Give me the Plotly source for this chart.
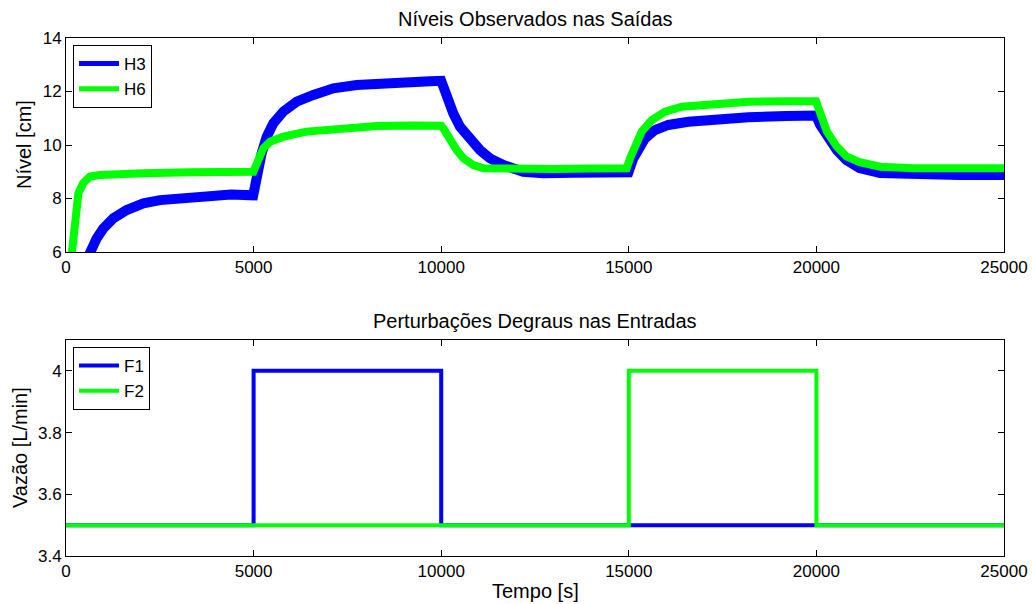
import plotly.graph_objects as go

# ---- data ----
h3_t = [600, 640, 817, 995, 1262, 1617, 2062, 2505, 3393, 4400, 4990,
        5082, 5215, 5350, 5526, 5792, 6148, 6592, 7125, 7747, 8280, 9000, 9700, 10000,
        10146, 10323, 10501, 10768, 11034, 11300, 11656, 12189, 12722, 13500, 14300, 14990,
        15120, 15254, 15432, 15698, 16053, 16586, 17297, 18185, 19200, 19990,
        20100, 20300, 20550, 20800, 21150, 21700, 22600, 23800, 25000]
h3_v = [5.85, 6.0, 6.51, 6.88, 7.26, 7.57, 7.82, 7.94, 8.07, 8.15, 8.12,
        8.95, 9.69, 10.31, 10.81, 11.25, 11.62, 11.87, 12.12, 12.24, 12.3, 12.35, 12.38, 12.4,
        11.81, 11.18, 10.68, 10.19, 9.81, 9.5, 9.25, 9.0, 8.94, 8.96, 8.97, 8.98,
        9.5, 9.88, 10.25, 10.56, 10.75, 10.87, 10.96, 11.04, 11.08, 11.1,
        10.75, 10.3, 9.8, 9.44, 9.14, 8.95, 8.88, 8.88, 8.88]

h6_t = [120, 151, 240, 330, 462, 640, 906, 1400, 2060, 3300, 4460, 4993,
        5126, 5260, 5437, 5792, 6414, 7303, 8280, 9200, 10000,
        10057, 10235, 10412, 10590, 10856, 11122, 11922, 13000, 14000, 14944,
        15032, 15165, 15343, 15610, 15965, 16410, 17119, 18185, 19200, 19990,
        20100, 20280, 20540, 20800, 21150, 21700, 22600, 23800, 25000]
h6_v = [5.5, 6.0, 7.32, 8.2, 8.58, 8.82, 8.88, 8.92, 8.94, 8.98, 9.0, 9.0,
        9.44, 9.88, 10.12, 10.31, 10.5, 10.62, 10.71, 10.73, 10.72,
        10.62, 10.19, 9.81, 9.5, 9.25, 9.13, 9.09, 9.1, 9.12, 9.13,
        9.5, 10.0, 10.5, 10.93, 11.25, 11.43, 11.53, 11.62, 11.64, 11.64,
        11.2, 10.5, 9.95, 9.57, 9.36, 9.19, 9.13, 9.13, 9.13]

step_t = [0, 5000, 10000, 15000, 20000, 25000]
f1_v = [3.5, 4.0, 3.5, 3.5, 3.5, 3.5]
f2_v = [3.5, 3.5, 3.5, 4.0, 3.5, 3.5]

x_ticks = [0, 5000, 10000, 15000, 20000, 25000]
x_ticktext = ["0", "5000", "10000", "15000", "20000", "25000"]
y1_ticks = [6, 8, 10, 12, 14]
y1_ticktext = ["6", "8", "10", "12", "14"]
y2_ticks = [3.4, 3.6, 3.8, 4.0]
y2_ticktext = ["3.4", "3.6", "3.8", "4"]

BLUE = "#0000FF"
GREEN = "#00FF00"
FONT = "Liberation Sans, Arial, sans-serif"

W, H = 1034, 604
def px(x): return x / W
def py(y): return 1 - y / H

fig = go.Figure()
# data lines (top)
fig.add_trace(go.Scatter(x=h3_t, y=h3_v, mode="lines", name="H3", showlegend=False,
                         line=dict(color=BLUE, width=10), xaxis="x", yaxis="y"))
fig.add_trace(go.Scatter(x=h6_t, y=h6_v, mode="lines", name="H6", showlegend=False,
                         line=dict(color=GREEN, width=8), xaxis="x", yaxis="y"))
# legend entries (top) with the thinner legend line
fig.add_trace(go.Scatter(x=[None], y=[None], mode="lines", name="H3",
                         line=dict(color=BLUE, width=5), xaxis="x", yaxis="y", legend="legend"))
fig.add_trace(go.Scatter(x=[None], y=[None], mode="lines", name="H6",
                         line=dict(color=GREEN, width=5), xaxis="x", yaxis="y", legend="legend"))
# bottom steps
fig.add_trace(go.Scatter(x=step_t, y=f1_v, mode="lines", name="F1", line_shape="hv",
                         line=dict(color=BLUE, width=4), xaxis="x2", yaxis="y2", legend="legend2"))
fig.add_trace(go.Scatter(x=step_t, y=f2_v, mode="lines", name="F2", line_shape="hv",
                         line=dict(color=GREEN, width=4), xaxis="x2", yaxis="y2", legend="legend2"))

axis_common = dict(showline=True, linecolor="black", linewidth=1, mirror="allticks",
                   ticks="inside", ticklen=6, tickcolor="black", showgrid=False,
                   zeroline=False, automargin=False,
                   tickfont=dict(size=17, color="black", family=FONT))

legend_common = dict(xanchor="left", yanchor="top", bordercolor="black", borderwidth=1,
                     bgcolor="white", font=dict(size=17, family=FONT, color="black"),
                     itemwidth=40, tracegroupgap=0)

fig.update_layout(
    width=W, height=H, margin=dict(l=0, r=0, t=0, b=0, autoexpand=False),
    paper_bgcolor="white", plot_bgcolor="white",
    font=dict(family=FONT, size=17, color="black"),
    xaxis=dict(domain=[px(66), px(1004)], range=[0, 25000], tickvals=x_ticks,
               ticktext=x_ticktext, anchor="y", **axis_common),
    yaxis=dict(domain=[py(252), py(38)], range=[6, 14], tickvals=y1_ticks,
               ticktext=y1_ticktext, anchor="x", **axis_common),
    xaxis2=dict(domain=[px(66), px(1004)], range=[0, 25000], tickvals=x_ticks,
                ticktext=x_ticktext, anchor="y2", **axis_common),
    yaxis2=dict(domain=[py(556), py(340)], range=[3.4, 4.1], tickvals=y2_ticks,
                ticktext=y2_ticktext, anchor="x2", **axis_common),
    legend=dict(x=px(73), y=py(45), **legend_common),
    legend2=dict(x=px(73), y=py(347), **legend_common),
    annotations=[
        dict(text="Níveis Observados nas Saídas", x=px(535), y=py(19), xref="paper",
             yref="paper", showarrow=False, font=dict(size=20), xanchor="center", yanchor="middle"),
        dict(text="Perturbações Degraus nas Entradas", x=px(535), y=py(321), xref="paper",
             yref="paper", showarrow=False, font=dict(size=20), xanchor="center", yanchor="middle"),
        dict(text="Tempo [s]", x=px(535), y=py(591), xref="paper",
             yref="paper", showarrow=False, font=dict(size=20), xanchor="center", yanchor="middle"),
        dict(text="Nível [cm]", x=px(24), y=py(145), xref="paper", textangle=-90,
             yref="paper", showarrow=False, font=dict(size=20), xanchor="center", yanchor="middle"),
        dict(text="Vazão [L/min]", x=px(20), y=py(448), xref="paper", textangle=-90,
             yref="paper", showarrow=False, font=dict(size=20), xanchor="center", yanchor="middle"),
    ],
)

fig.write_html("out.html")
